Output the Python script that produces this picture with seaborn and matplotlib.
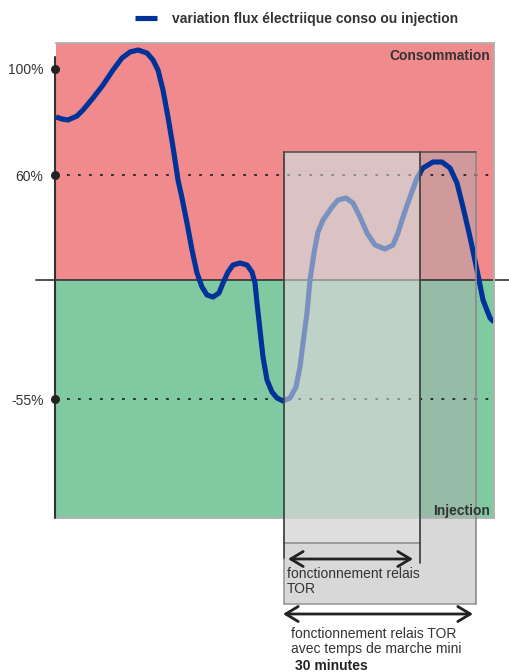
import pandas as pd
import matplotlib
matplotlib.use("Agg")
import matplotlib.pyplot as plt
from matplotlib.patches import Rectangle
import seaborn as sns

# données (x en px, y en px de l'image, converti en niveau au-dessus de zéro)
courbe_x = [56, 62, 68, 77, 83, 93, 103, 113, 122, 130, 138, 147, 153, 158, 163, 168,
            173, 178, 182, 187, 192, 197, 202, 207, 213, 219, 223, 228, 233, 240, 247,
            252, 255, 257, 260, 263, 267, 272, 277, 283, 290, 296, 300, 303, 307, 310,
            314, 318, 323, 332, 338, 346, 353, 360, 367, 375, 385, 393, 398, 403, 410,
            417, 423, 433, 442, 450, 457, 463, 470, 477, 483, 490, 494]
courbe_y = [117, 119, 120, 116, 110, 98, 85, 70, 58, 52, 50, 53, 60, 70, 90, 117,
            147, 180, 198, 223, 250, 273, 287, 295, 297, 293, 283, 272, 265, 263, 265,
            272, 283, 303, 330, 357, 380, 392, 398, 401, 398, 387, 367, 343, 313, 280,
            253, 232, 220, 207, 200, 198, 203, 217, 233, 245, 249, 245, 233, 217, 197,
            178, 168, 162, 162, 168, 183, 207, 237, 270, 300, 318, 322]
courbe_niveau = [280 - v for v in courbe_y]

seuils_niveau = [211, 105, -119]
seuils_labels = ["100%", "60%", "-55%"]
lignes_pointillees = [105, -119]

df = pd.DataFrame({"x": courbe_x, "niveau": courbe_niveau})

sns.set_theme(style="white")
plt.rcParams["font.family"] = ["Liberation Sans", "DejaVu Sans"]

W, H = 510, 672
fig = plt.figure(figsize=(W / 100, H / 100), dpi=100)
ax = fig.add_axes([56 / W, 1 - 518 / H, (494 - 56) / W, (518 - 43) / H])
ax.set_xlim(56, 494)
ax.set_ylim(-238, 237)

rouge = "#f08a8d"
vert = "#80caa1"
ax.axhspan(0, 237, color=rouge, lw=0, zorder=0)
ax.axhspan(-238, 0, color=vert, lw=0, zorder=0)

# grand rectangle gris (marche mini 30 min)
ax.add_patch(Rectangle((284, -324), 476 - 284, 128 + 324, facecolor="#aeaeae",
                       alpha=0.47, lw=0, zorder=1, clip_on=False))
ax.plot([476, 476], [128, -324], color="#8a8a8a", lw=1.2, zorder=4, clip_on=False)
ax.plot([284, 476], [-324, -324], color="#9a9a9a", lw=1.2, zorder=4, clip_on=False)

# pointillés et ligne zéro
for niv in lignes_pointillees:
    ax.plot([56, 494], [niv, niv], color="#222222", lw=1.3,
            linestyle=(0, (1.5, 4.6)), zorder=1.5)
ax.plot([36, 510], [0, 0], color="#333333", lw=1.2, zorder=1.5, clip_on=False)

sns.lineplot(data=df, x="x", y="niveau", sort=False, color="#003399", lw=3.7,
             ax=ax, zorder=2, label="variation flux électriique conso ou injection",
             solid_joinstyle="round", solid_capstyle="butt")

# petit rectangle clair (relais TOR)
ax.add_patch(Rectangle((284, -263), 420 - 284, 128 + 263, facecolor="#e6e6e6",
                       alpha=0.53, lw=0, zorder=3, clip_on=False))
ax.plot([284, 420], [-263, -263], color="#8f8f8f", lw=1.2, zorder=4, clip_on=False)
ax.plot([284, 476], [128, 128], color="#555555", lw=1.2, zorder=4, clip_on=False)
ax.plot([284, 284], [128, -279], color="#444444", lw=1.3, zorder=4, clip_on=False)
ax.plot([284, 284], [-279, -324], color="#9a9a9a", lw=1.2, zorder=4, clip_on=False)
ax.plot([420, 420], [128, -283], color="#444444", lw=1.3, zorder=4, clip_on=False)

# axe gauche et repères
ax.plot([55, 55], [223, -238], color="#333333", lw=1.5, zorder=5, clip_on=False)
ax.scatter([55] * len(seuils_niveau), seuils_niveau, s=30, color="#222222",
           zorder=6, clip_on=False)
ax.set_yticks(seuils_niveau)
ax.set_yticklabels(seuils_labels, fontsize=10, color="#333333")
ax.tick_params(axis="y", length=0, pad=9)
ax.set_xticks([])
ax.set_xlabel("")
ax.set_ylabel("")

for side in ["top", "right", "bottom"]:
    ax.spines[side].set_color("#b0b0b0")
    ax.spines[side].set_linewidth(1.3)
ax.spines["left"].set_visible(False)

ax.text(490, 280 - 56, "Consommation", fontsize=10, fontweight="bold",
        color="#333333", ha="right", va="center", zorder=7)
ax.text(490, 280 - 511, "Injection", fontsize=10, fontweight="bold",
        color="#333333", ha="right", va="center", zorder=7)

# flèches et textes sous le graphique
fleche = dict(arrowstyle="<->,head_length=0.75,head_width=0.45", lw=2.0, color="#222222",
              shrinkA=0, shrinkB=0)
ax.annotate("", xy=(413, 280 - 559), xytext=(288, 280 - 559), arrowprops=fleche,
            annotation_clip=False, zorder=7)
ax.annotate("", xy=(473, 280 - 614), xytext=(283, 280 - 614), arrowprops=fleche,
            annotation_clip=False, zorder=7)

ax.text(287, 280 - 578, "fonctionnement relais", fontsize=10, color="#333333",
        va="baseline", clip_on=False)
ax.text(287, 280 - 593, "TOR", fontsize=10, color="#333333", va="baseline", clip_on=False)
ax.text(291, 280 - 638, "fonctionnement relais TOR", fontsize=10, color="#333333",
        va="baseline", clip_on=False)
ax.text(291, 280 - 653, "avec temps de marche mini", fontsize=10, color="#333333",
        va="baseline", clip_on=False)
ax.text(295, 280 - 670, "30 minutes", fontsize=10, fontweight="bold", color="#222222",
        va="baseline", clip_on=False)

leg = ax.legend(loc="center left", bbox_to_anchor=(135 / W, 1 - 19 / H),
                bbox_transform=fig.transFigure, frameon=False, borderpad=0,
                borderaxespad=0, handlelength=1.6, handletextpad=1.05,
                prop={"weight": "bold", "size": 10})
for t in leg.get_texts():
    t.set_color("#333333")

fig.savefig("out.png", dpi=100)
